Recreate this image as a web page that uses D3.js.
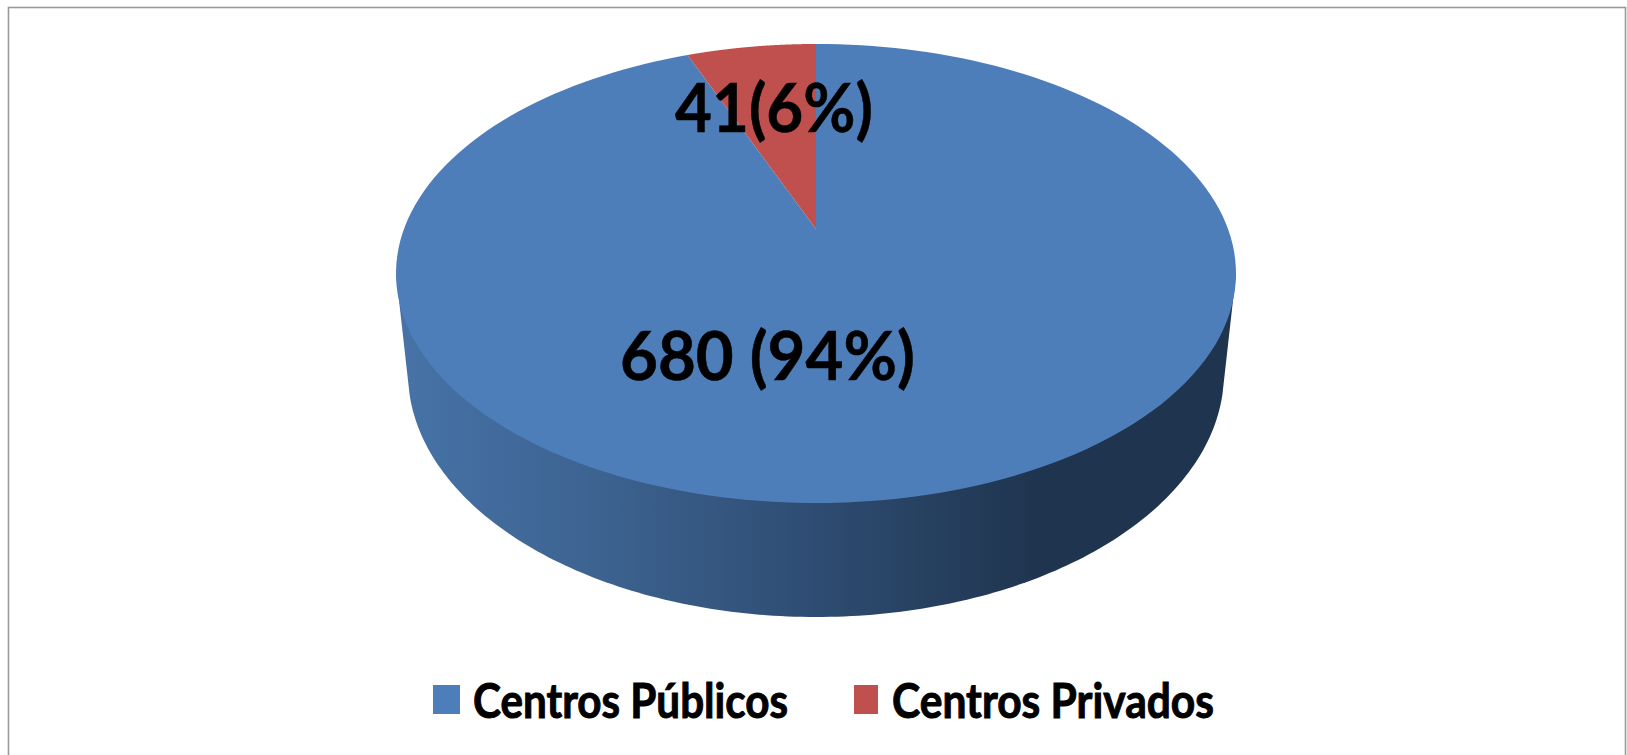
<!DOCTYPE html>
<html>
<head>
<meta charset="utf-8">
<script src="https://cdn.jsdelivr.net/npm/d3@7"></script>
<style>
  html, body { margin: 0; padding: 0; background: #fff; overflow: hidden; }
  text { font-family: Lato, "Open Sans", sans-serif; font-weight: 700; fill: #000; stroke: #000; }
</style>
</head>
<body>
<div id="canvas"></div>
<script>
// datos del grafico
const categories = ["Centros Públicos", "Centros Privados"];
const counts = [680, 41];
const percents = [94, 6];
const sliceLabels = ["680 (94%)", "41(6%)"];
const colors = ["#4e7eb9", "#c0504d"];

const width = 1627;
const height = 755;

const svg = d3.select("#canvas").append("svg")
    .attr("width", width)
    .attr("height", height)
    .style("display", "block");

// marco
svg.append("rect")
    .attr("x", 8.5).attr("y", 7.5)
    .attr("width", 1617).attr("height", 800)
    .attr("fill", "none")
    .attr("stroke", "#9a9a9a")
    .attr("stroke-width", 1.6);

// tarta en perspectiva: el centro del circulo cae por encima del centro de la elipse
const cx = 816;
const apexY = 229;
const farY = 44;
const nearY = 503;
const halfWidth = 420;

const persp = (nearY + farY - 2 * apexY) / (farY - nearY);
const slope = apexY - farY + farY * persp;
const spread = halfWidth * Math.sqrt(1 - persp * persp);

const project = angle => {
  const X = Math.sin(angle);
  const Y = -Math.cos(angle);
  const w = 1 + persp * Y;
  return [cx + spread * X / w, (apexY + slope * Y) / w];
};

const pie = d3.pie().sort(null);
const arcs = pie(percents);

const line = d3.line();
const slicePath = d => {
  const steps = d3.range(0, 181).map(i => d.startAngle + (d.endAngle - d.startAngle) * i / 180);
  return line([[cx, apexY], ...steps.map(project)]) + "Z";
};

// cara lateral
const defs = svg.append("defs");
const grad = defs.append("linearGradient")
    .attr("id", "side")
    .attr("gradientUnits", "userSpaceOnUse")
    .attr("x1", 396).attr("x2", 1236)
    .attr("y1", 0).attr("y2", 0);
[[0, "#4773a8"], [0.25, "#3c628f"], [0.5, "#2e4c72"], [0.77, "#1f344e"], [1, "#1f344e"]]
    .forEach(s => grad.append("stop").attr("offset", s[0]).attr("stop-color", s[1]));

const lowCy = 373;
const lowRx = 408;
const lowRy = 244;
const sideRim = d3.range(5, 176).map(i => {
  const t = Math.PI * i / 180;
  return [cx - lowRx * Math.cos(t), lowCy + lowRy * Math.sin(t)];
});
const topMid = (farY + nearY) / 2;
svg.append("path")
    .attr("d", line([[cx - halfWidth, topMid], ...sideRim, [cx + halfWidth, topMid]]) + "Z")
    .attr("fill", "url(#side)");

// cara superior
svg.selectAll("path.slice")
    .data(arcs)
    .enter()
    .append("path")
    .attr("class", "slice")
    .attr("d", slicePath)
    .attr("fill", (d, i) => colors[i]);

// etiquetas
const labelPos = [[767.5, 380], [774, 132]];
const labelW = [295, 198];
svg.selectAll("text.value")
    .data(sliceLabels)
    .enter()
    .append("text")
    .attr("class", "value")
    .attr("x", (d, i) => labelPos[i][0])
    .attr("y", (d, i) => labelPos[i][1])
    .attr("text-anchor", "middle")
    .attr("font-size", 66)
    .attr("stroke-width", 0.5)
    .attr("textLength", (d, i) => labelW[i])
    .attr("lengthAdjust", "spacingAndGlyphs")
    .text(d => d);

// leyenda
const legendX = [433, 854];
const legendSwatch = [27, 24];
const legendTextX = [473, 892];
const legendTextW = [315, 322];

svg.selectAll("rect.swatch")
    .data(categories)
    .enter()
    .append("rect")
    .attr("class", "swatch")
    .attr("x", (d, i) => legendX[i])
    .attr("y", 685)
    .attr("width", (d, i) => legendSwatch[i])
    .attr("height", 29)
    .attr("fill", (d, i) => colors[i]);

svg.selectAll("text.legend")
    .data(categories)
    .enter()
    .append("text")
    .attr("class", "legend")
    .attr("x", (d, i) => legendTextX[i])
    .attr("y", 718)
    .attr("font-size", 48)
    .attr("stroke-width", 1)
    .attr("textLength", (d, i) => legendTextW[i])
    .attr("lengthAdjust", "spacingAndGlyphs")
    .text(d => d);
</script>
</body>
</html>
